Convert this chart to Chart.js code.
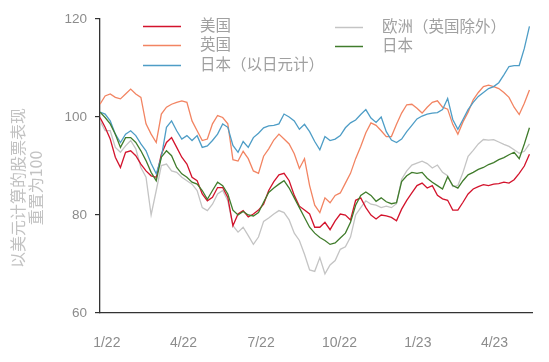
<!DOCTYPE html>
<html>
<head>
<meta charset="utf-8">
<script src="https://cdn.jsdelivr.net/npm/chart.js@4.4.1/dist/chart.umd.min.js"></script>
<style>
  html, body { margin: 0; padding: 0; background: #fff; }
  #wrap { width: 549px; height: 362px; }
</style>
</head>
<body>
<div id="wrap"><canvas id="c" width="549" height="362"></canvas></div>
<script>
// values, one point about every 6 days from late Dec 2021
const startDay = -8;   // days since 1 Jan 2022
const stepDays = 6;

const usa = [99.9, 97.9, 95.5, 91.8, 89.7, 92.8, 93.1, 92.1, 90.4, 89, 88, 87.7, 92.4, 94.8, 95.8, 93.8, 91.8, 90.4, 87.7, 87, 84.3, 82.9, 83.6, 85.6, 85.6, 83.6, 77.8,
  80.2, 80.9, 79.6, 80.2, 81, 82.2, 85, 86.8, 88.2, 88.5, 87, 84, 81.8, 81, 80.2, 77.5, 77.5, 78.5, 77, 78.8, 80.2, 80, 79, 83, 83.5, 81.5,
  80, 79.2, 80, 79.8, 79.5, 78.8, 81.2, 83, 84.5, 86, 86.5, 85.5, 86, 84, 83.3, 83, 81, 81, 82.6, 84.3, 85.3, 85.8, 86.2, 86, 86.3, 86.4, 86.7,
  86.5, 87.2, 88.5, 90, 92.4];

const uk = [102.6, 104.3, 104.7, 104, 103.7, 104.7, 105.7, 104.7, 104, 98.6, 96.5, 94.8, 100.6, 102, 102.6, 103, 103.3, 103, 99.2, 97.2, 95.2, 95.5, 98.6, 100.3, 99.9, 98.6, 91.3,
  91, 93, 91.5, 89, 88.5, 92, 93.5, 95.3, 96.5, 95.5, 94.5, 92.5, 89.5, 91.5, 86, 82, 80.5, 83.5, 82.5, 84, 84.5, 86.5, 88.5, 91.5, 94, 96.8,
  98.8, 98.3, 97.2, 96, 96, 98.5, 100.8, 102.5, 102.6, 101.8, 100.8, 102, 103, 103.3, 102, 101.6, 98.5, 96.5, 99, 101, 103.5, 105, 106.2, 106.5, 106.2, 105.8, 105,
  104, 102, 100.5, 102.8, 105.5];

const japanYen = [101, 100.6, 99.2, 96.5, 94.8, 96.5, 97.2, 96.2, 94.5, 93.1, 90.5, 88.4, 91.8, 97.9, 99.2, 97.2, 95.5, 96.2, 95.2, 96.2, 93.8, 94.1, 95.2, 96.5, 98.6, 97.9, 94.2,
  92.8, 95, 93.8, 95.8, 96.7, 97.8, 98.2, 98.3, 98.6, 100.6, 100, 99.2, 97.5, 98.5, 97, 95, 93.3, 96, 95.2, 95.5, 96.2, 97.8, 98.8, 99.4, 100.5, 101.5,
  99.8, 98.9, 100, 97, 95.3, 94.8, 95.5, 97, 98.3, 99.6, 100.2, 100.6, 100.8, 100.9, 101.5, 103.8, 99.5, 97.5, 99.5, 101.5, 103, 104.2, 105, 105.8, 106.2, 107, 108.6,
  110.3, 110.5, 110.5, 114, 118.5];

const europe = [99.2, 97.2, 97.2, 93.8, 92.8, 94.1, 95.2, 93.5, 89.7, 87.7, 80, 85, 90.1, 90.4, 89, 88.7, 87.7, 87, 86.3, 85, 81.5, 80.9, 82.2, 84.3, 85, 82.9, 77.8,
  76.5, 77.5, 75.8, 74, 75.5, 78.7, 79.4, 80.2, 80.9, 80.5, 79, 76.3, 74.8, 72, 68.8, 68.5, 71.3, 68, 69.8, 70.7, 73, 73.5, 75.5, 80, 81.5, 82.9,
  82.2, 82, 81.5, 81.8, 81.5, 82.3, 87.3, 89, 90.2, 90.6, 91, 90.5, 89.6, 90.2, 88.7, 88, 85.8, 86, 88.7, 92, 93.2, 94.5, 95.4, 95.3, 95.4, 94.9, 94.4,
  94, 93.3, 92.6, 93, 94.5];

const japanUsd = [101, 99.9, 98.6, 96.5, 93.8, 95.8, 95.8, 94.8, 93.1, 91.1, 88.7, 87, 91.8, 93.1, 92.1, 89.7, 88.4, 87.7, 86.7, 86.3, 85, 83.2, 85, 86.7, 86, 84.3, 81,
  80, 80.7, 80, 79.8, 80.5, 82.6, 84.6, 85.5, 86.3, 87, 85.5, 83.5, 81.5, 79.5, 77.5, 76.3, 75.4, 74.8, 74, 74.3, 75.3, 76.3, 78.5, 82, 84, 84.7,
  84, 82.8, 83.5, 82.7, 82.3, 82.5, 86.8, 88, 88.7, 88.5, 88.7, 87.5, 86.7, 86, 85.3, 87.8, 86, 85.5, 87, 88.2, 88.7, 89.3, 89.7, 90.3, 90.7, 91.3, 91.7,
  92.3, 92.8, 91.5, 94.5, 97.8];

const seriesNames = ['美国', '英国', '日本（以日元计）', '欧洲（英国除外）', '日本'];
const tickDays = [0, 90, 181, 273, 365, 455];
const tickLabels = ['1/22', '4/22', '7/22', '10/22', '1/23', '4/23'];
const yTicks = [60, 80, 100, 120];
const yTitle = ['以美元计算的股票表现', '重置为100'];

const days = usa.map((_, i) => startDay + i * stepDays);
const toPoints = vals => vals.map((v, i) => ({ x: days[i], y: v }));

const colors = ['#d3132c', '#f28462', '#4e9dc6', '#c4c4c4', '#407c2c'];
const order = [3, 4, 2, 5, 1];
const allSeries = [usa, uk, japanYen, europe, japanUsd];

const datasets = allSeries.map((vals, k) => ({
    label: seriesNames[k],
    data: toPoints(vals),
    borderColor: colors[k],
    backgroundColor: colors[k],
    borderWidth: 1.3,
    pointRadius: 0,
    tension: 0,
    order: order[k]
}));

const cjk = '"Noto Sans CJK SC", "Noto Sans", sans-serif';

// legend laid out in two columns like the original
const legendPlugin = {
    id: 'twoColLegend',
    afterDraw(chart) {
        const ctx = chart.ctx;
        const spots = [
            { i: 0, x: 143, y: 25 }, { i: 1, x: 143, y: 44 }, { i: 2, x: 143, y: 64 },
            { i: 3, x: 335, y: 26 }, { i: 4, x: 335, y: 45 }
        ];
        ctx.save();
        ctx.font = '15.5px ' + cjk;
        ctx.textBaseline = 'middle';
        spots.forEach(s => {
            const lineLen = s.x < 300 ? 38 : 28;
            ctx.strokeStyle = colors[s.i];
            ctx.lineWidth = 1.5;
            ctx.beginPath();
            ctx.moveTo(s.x, s.y + 1.5);
            ctx.lineTo(s.x + lineLen, s.y + 1.5);
            ctx.stroke();
            ctx.fillStyle = '#a0a0a0';
            ctx.fillText(seriesNames[s.i], s.x < 300 ? 200 : 382, s.y);
        });
        // rotated y title, two lines
        ctx.font = '16px ' + cjk;
        ctx.fillStyle = '#c2c2c2';
        ctx.textAlign = 'center';
        ctx.translate(18, 188);
        ctx.rotate(-Math.PI / 2);
        ctx.fillText(yTitle[0], 0, 0);
        ctx.fillText(yTitle[1], 0, 18);
        ctx.restore();
    }
};

new Chart(document.getElementById('c'), {
    type: 'line',
    data: { datasets: datasets },
    options: {
        responsive: false,
        animation: false,
        layout: { padding: { top: 19, right: 17, bottom: 0, left: 0 } },
        plugins: { legend: { display: false }, tooltip: { enabled: false } },
        scales: {
            x: {
                type: 'linear',
                min: -8,
                max: 499,
                afterBuildTicks: s => { s.ticks = tickDays.map(v => ({ value: v })); },
                afterFit: s => { s.height = 49; },
                ticks: {
                    color: '#8c8c8c',
                    font: { size: 14, family: 'Liberation Sans, Arial, sans-serif' },
                    padding: 22,
                    maxRotation: 0,
                    autoSkip: false,
                    callback: (v, i) => tickLabels[i]
                },
                grid: { display: false, drawTicks: false },
                border: { display: true, color: '#333', width: 1.3 }
            },
            y: {
                min: 60,
                max: 120,
                afterBuildTicks: s => { s.ticks = yTicks.map(v => ({ value: v })); },
                afterFit: s => { s.width = 100; },
                ticks: {
                    color: '#8c8c8c',
                    font: { size: 13.5, family: 'Liberation Sans, Arial, sans-serif' },
                    padding: 8
                },
                grid: { display: true, drawOnChartArea: false, drawTicks: true, tickLength: 5, color: '#333', lineWidth: 1.2 },
                border: { display: true, color: '#333', width: 1.3 }
            }
        }
    },
    plugins: [legendPlugin]
});
</script>
</body>
</html>
